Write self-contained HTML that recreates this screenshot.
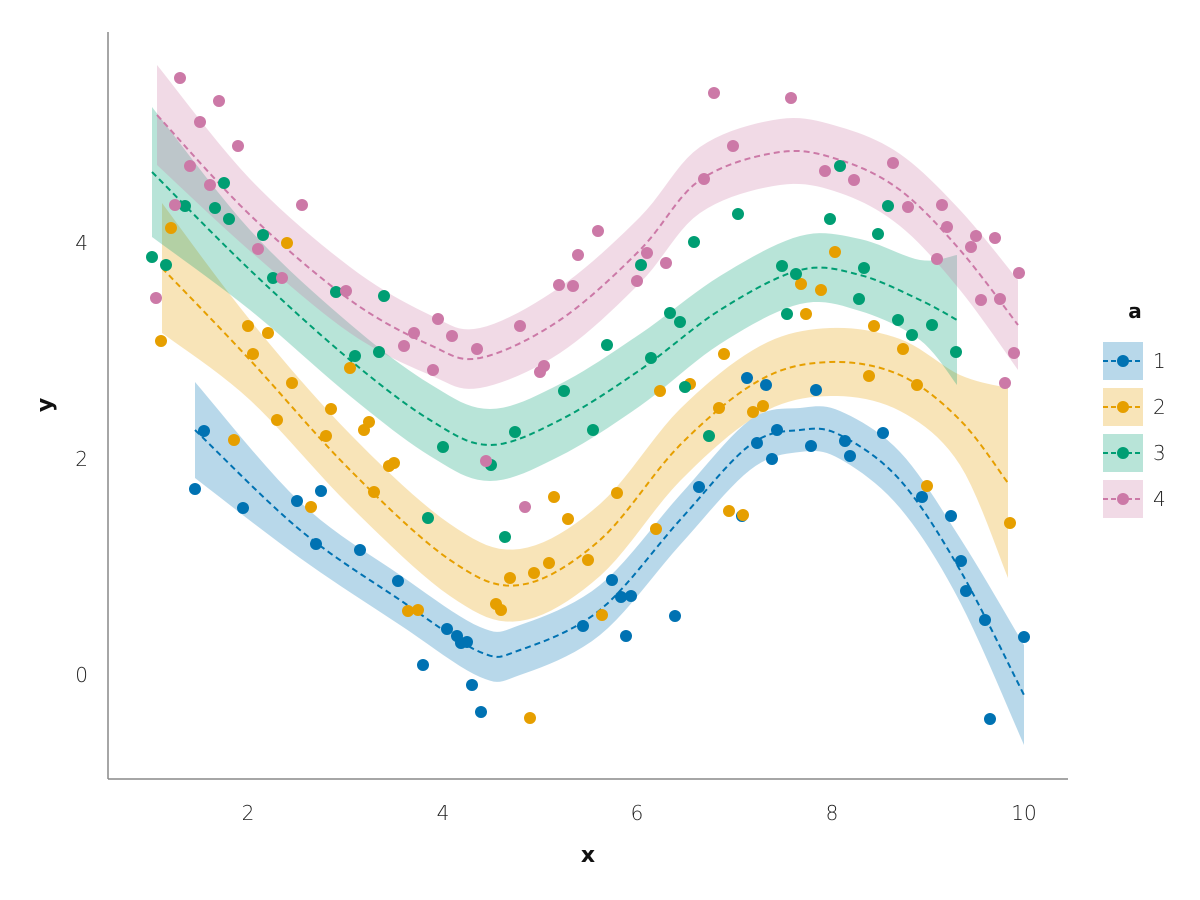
<!DOCTYPE html>
<html><head><meta charset="utf-8"><style>
html,body{margin:0;padding:0;background:#fff;}
svg{display:block;font-family:"DejaVu Sans","Liberation Sans",sans-serif;}
</style></head><body>
<svg id="s" width="1200" height="900" viewBox="0 0 1200 900">
<rect width="1200" height="900" fill="#fff"/>
<g id="bands"></g><g id="lines"></g><g id="pts"></g>
<line x1="108" y1="32" x2="108" y2="779" stroke="#888" stroke-width="1.5"/>
<line x1="108" y1="779" x2="1068" y2="779" stroke="#888" stroke-width="1.5"/>
<g font-size="20" fill="#222" text-anchor="middle" font-weight="300">
<text x="248" y="820">2</text><text x="443" y="820">4</text><text x="637" y="820">6</text><text x="832" y="820">8</text><text x="1024" y="820">10</text>
</g>
<g font-size="20" fill="#222" text-anchor="end" font-weight="300">
<text x="88" y="682">0</text><text x="88" y="466">2</text><text x="88" y="250">4</text>
</g>
<text x="588" y="862" font-size="22" font-weight="bold" text-anchor="middle" fill="#111">x</text>
<text transform="translate(52,405) rotate(-90)" font-size="22" font-weight="bold" text-anchor="middle" fill="#111">y</text>
<text x="1135" y="318" font-size="20" font-weight="bold" text-anchor="middle" fill="#111">a</text>
<g id="leg"></g>
<g font-size="20" fill="#222" font-weight="300">
<text x="1153" y="368">1</text><text x="1153" y="414">2</text><text x="1153" y="460">3</text><text x="1153" y="506">4</text>
</g>
</svg>
<script>
var C=["#0072b2","#e69f00","#009e73","#cc79a7"];
var curves=[
[[195,430,48],[300,530,28],[400,600,25],[480,652,25],[520,650,25],[600,610,25],[680,520,25],[750,445,25],[800,430,22],[840,435,24],[900,480,28],[960,570,32],[1024,695,50]],
[[162,268,65],[250,360,40],[350,470,36],[450,560,36],[520,585,36],[600,540,36],[680,445,36],[760,380,34],[830,362,34],[900,375,36],[960,420,45],[1008,483,95]],
[[152,172,65],[250,270,40],[350,360,36],[430,420,36],[490,445,36],[560,420,36],[640,370,36],[720,310,34],[800,270,34],[860,275,36],[920,300,40],[957,320,65]],
[[157,115,50],[250,215,36],[350,300,33],[430,345,30],[480,358,30],[560,320,33],[640,250,33],[700,180,33],[780,152,33],[840,160,33],[900,190,36],[960,250,40],[1018,325,45]]];
var P=[
[[195,489],[204,431],[243,508],[297,501],[316,544],[321,491],[360,550],[398,581],[423,665],[447,629],[457,636],[461,643],[467,642],[472,685],[481,712],[583,626],[612,580],[621,597],[626,636],[631,596],[675,616],[699,487],[742,516],[747,378],[757,443],[766,385],[772,459],[777,430],[811,446],[816,390],[845,441],[850,456],[883,433],[922,497],[951,516],[961,561],[966,591],[985,620],[990,719],[1024,637]],
[[161,341],[171,228],[234,440],[248,326],[253,354],[268,333],[277,420],[287,243],[292,383],[311,507],[326,436],[331,409],[350,368],[364,430],[369,422],[374,492],[389,466],[394,463],[408,611],[418,610],[496,604],[501,610],[510,578],[530,718],[534,573],[549,563],[554,497],[568,519],[588,560],[602,615],[617,493],[656,529],[660,391],[690,384],[719,408],[724,354],[729,511],[743,515],[753,412],[763,406],[801,284],[806,314],[821,290],[835,252],[869,376],[874,326],[903,349],[917,385],[927,486],[1010,523]],
[[152,257],[166,265],[185,206],[215,208],[224,183],[229,219],[263,235],[273,278],[336,292],[355,356],[379,352],[384,296],[428,518],[443,447],[491,465],[505,537],[515,432],[564,391],[593,430],[607,345],[641,265],[651,358],[670,313],[680,322],[685,387],[694,242],[709,436],[738,214],[782,266],[787,314],[796,274],[830,219],[840,166],[859,299],[864,268],[878,234],[888,206],[898,320],[912,335],[932,325],[956,352]],
[[156,298],[175,205],[180,78],[190,166],[200,122],[210,185],[219,101],[238,146],[258,249],[282,278],[302,205],[346,291],[404,346],[414,333],[433,370],[438,319],[452,336],[477,349],[486,461],[520,326],[525,507],[540,372],[544,366],[559,285],[573,286],[578,255],[598,231],[637,281],[647,253],[666,263],[704,179],[714,93],[733,146],[791,98],[825,171],[854,180],[893,163],[908,207],[937,259],[942,205],[947,227],[971,247],[976,236],[981,300],[995,238],[1000,299],[1005,383],[1014,353],[1019,273]]];
function samp(p){var o=[];for(var i=0;i<p.length-1;i++){var p0=p[Math.max(i-1,0)],p1=p[i],p2=p[i+1],p3=p[Math.min(i+2,p.length-1)];
for(var k=0;k<10;k++){var t=k/10,t2=t*t,t3=t2*t,r=[];for(var j=0;j<3;j++)r.push(0.5*(2*p1[j]+(-p0[j]+p2[j])*t+(2*p0[j]-5*p1[j]+4*p2[j]-p3[j])*t2+(-p0[j]+3*p1[j]-3*p2[j]+p3[j])*t3));o.push(r);}}
o.push(p[p.length-1]);return o;}
var NS="http://www.w3.org/2000/svg";
function el(g,n,a){var e=document.createElementNS(NS,n);for(var k in a)e.setAttribute(k,a[k]);document.getElementById(g).appendChild(e);return e;}
curves.forEach(function(c,i){var s=samp(c);var up=s.map(function(q){return q[0]+","+(q[1]-q[2])});var dn=s.map(function(q){return q[0]+","+(q[1]+q[2])}).reverse();
el("bands","polygon",{points:up.concat(dn).join(" "),fill:C[i],"fill-opacity":0.28});
el("lines","polyline",{points:s.map(function(q){return q[0]+","+q[1]}).join(" "),fill:"none",stroke:C[i],"stroke-width":2,"stroke-dasharray":"6,4"});});
P.forEach(function(a,i){a.forEach(function(q){el("pts","circle",{cx:q[0],cy:q[1],r:6,fill:C[i]});});});
[361,407,453,499].forEach(function(y,i){el("leg","rect",{x:1103,y:y-19,width:40,height:38,fill:C[i],"fill-opacity":0.28});
el("leg","line",{x1:1103,y1:y,x2:1143,y2:y,stroke:C[i],"stroke-width":2,"stroke-dasharray":"5,3"});
el("leg","circle",{cx:1123,cy:y,r:6,fill:C[i]});});
</script>
</body></html>
